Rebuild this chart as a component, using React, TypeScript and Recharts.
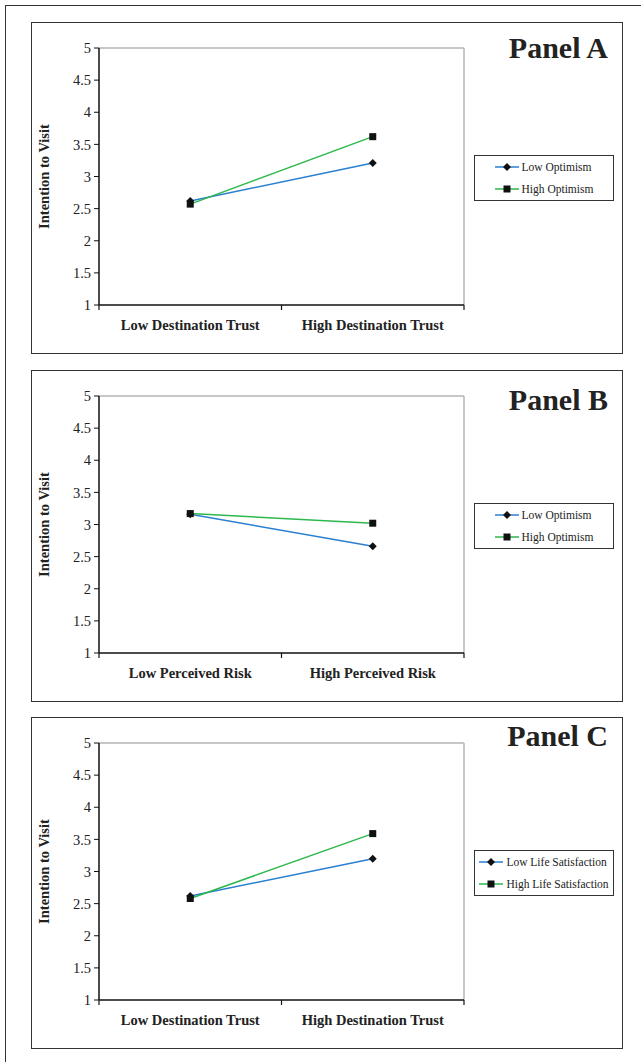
import React from 'react';
import { LineChart, Line, XAxis, YAxis, ReferenceLine, Legend } from 'recharts';

const FONT = '"Liberation Serif", "Times New Roman", serif';
const BLUE = '#2a7fd0';
const GREEN = '#2db84d';

const Y_TICKS = [1, 1.5, 2, 2.5, 3, 3.5, 4, 4.5, 5];
const X_POS = [0.5, 1.5];

const TRUST_CATEGORIES = ['Low Destination Trust', 'High Destination Trust'];
const RISK_CATEGORIES = ['Low Perceived Risk', 'High Perceived Risk'];

const A_LOW_OPTIMISM = [2.62, 3.21];
const A_HIGH_OPTIMISM = [2.57, 3.62];

const B_LOW_OPTIMISM = [3.16, 2.66];
const B_HIGH_OPTIMISM = [3.17, 3.02];

const C_LOW_LIFE_SAT = [2.62, 3.2];
const C_HIGH_LIFE_SAT = [2.58, 3.59];

const buildRows = (low: number[], high: number[]) =>
  X_POS.map((x, i) => ({ x, low: low[i], high: high[i] }));

const Diamond = (props: any) => {
  const { cx, cy } = props;
  if (cx == null || cy == null) return null;
  const r = 4;
  return <polygon points={`${cx},${cy - r} ${cx + r},${cy} ${cx},${cy + r} ${cx - r},${cy}`} fill="#111" />;
};

const Square = (props: any) => {
  const { cx, cy } = props;
  if (cx == null || cy == null) return null;
  return <rect x={cx - 3.5} y={cy - 3.5} width={7} height={7} fill="#111" />;
};

const makeTick = (categories: string[]) => (props: any) => {
  const { x, y, payload } = props;
  const v = payload.value;
  if (Number.isInteger(v)) {
    return <line x1={x} x2={x} y1={y} y2={y + 5} stroke="#111" strokeWidth={1.2} />;
  }
  return (
    <text x={x} y={y + 25} textAnchor="middle" fontFamily={FONT} fontWeight="bold" fontSize={14.5} fill="#222">
      {categories[Math.floor(v)]}
    </text>
  );
};

const LegendBox = (props: any) => {
  const items = [...(props.payload || [])].sort((a: any, b: any) =>
    a.dataKey === 'low' ? -1 : b.dataKey === 'low' ? 1 : 0
  );
  return (
    <div style={{ display: 'flex', justifyContent: 'center', alignItems: 'center', height: '100%' }}>
      <div>
        {items.map((entry: any) => (
          <div key={entry.value} style={{ display: 'flex', alignItems: 'center', height: 22 }}>
            <svg width={24} height={10} style={{ marginRight: 3 }}>
              <line x1={0} x2={24} y1={5} y2={5} stroke={entry.color} strokeWidth={1.5} />
              {entry.dataKey === 'low' ? (
                <polygon points="12,1 16,5 12,9 8,5" fill="#111" />
              ) : (
                <rect x={8.5} y={1.5} width={7} height={7} fill="#111" />
              )}
            </svg>
            <span style={{ fontFamily: FONT, fontSize: 11.5, color: '#222', whiteSpace: 'nowrap' }}>{entry.value}</span>
          </div>
        ))}
      </div>
    </div>
  );
};

type PanelProps = {
  top: number;
  title: string;
  titleTop: number;
  categories: string[];
  low: number[];
  high: number[];
  lowName: string;
  highName: string;
};

const Panel = ({ top, title, titleTop, categories, low, high, lowName, highName }: PanelProps) => {
  const rows = buildRows(low, high);
  return (
    <div
      style={{
        position: 'absolute',
        left: 31,
        top,
        width: 592,
        height: 332,
        border: '1.5px solid #333',
        boxSizing: 'border-box',
        background: '#fff',
      }}
    >
      <div
        style={{
          position: 'absolute',
          right: 14,
          top: titleTop,
          fontFamily: FONT,
          fontWeight: 'bold',
          fontSize: 30,
          lineHeight: 1,
          color: '#222',
        }}
      >
        {title}
      </div>
      <div style={{ position: 'absolute', left: 0, top: 0 }}>
        <LineChart width={589} height={329} data={rows} margin={{ top: 25, right: 17, bottom: 7, left: 7 }}>
          <XAxis
            dataKey="x"
            type="number"
            domain={[0, 2]}
            ticks={[0, 0.5, 1, 1.5, 2]}
            height={40}
            tickSize={0}
            tickMargin={0}
            tickLine={false}
            axisLine={{ stroke: '#111', strokeWidth: 1.5 }}
            tick={makeTick(categories)}
            interval={0}
          />
          <YAxis
            domain={[1, 5]}
            ticks={Y_TICKS}
            width={60}
            tickSize={5}
            tickMargin={3}
            axisLine={{ stroke: '#111', strokeWidth: 1.5 }}
            tickLine={{ stroke: '#111' }}
            tick={{ fill: '#222', fontFamily: FONT, fontSize: 14.5 }}
            label={{
              value: 'Intention to Visit',
              angle: -90,
              position: 'insideLeft',
              offset: 5,
              style: { textAnchor: 'middle', fontFamily: FONT, fontWeight: 'bold', fontSize: 14.5, fill: '#222' },
            }}
          />
          <ReferenceLine y={5} stroke="#b5b5b5" strokeWidth={1.5} />
          <ReferenceLine x={2} stroke="#b5b5b5" strokeWidth={1.5} />
          <Legend
            layout="vertical"
            align="right"
            verticalAlign="middle"
            content={<LegendBox />}
            wrapperStyle={{
              left: 442,
              top: 132,
              width: 140,
              height: 46,
              border: '1.2px solid #333',
              boxSizing: 'border-box',
              background: '#fff',
            }}
          />
          <Line
            dataKey="low"
            name={lowName}
            stroke={BLUE}
            strokeWidth={1.5}
            dot={<Diamond />}
            activeDot={false}
            isAnimationActive={false}
          />
          <Line
            dataKey="high"
            name={highName}
            stroke={GREEN}
            strokeWidth={1.5}
            dot={<Square />}
            activeDot={false}
            isAnimationActive={false}
          />
        </LineChart>
      </div>
    </div>
  );
};

export default function App() {
  return (
    <div style={{ position: 'absolute', left: 0, top: 0, width: 641, height: 1062, background: '#fff', overflow: 'hidden' }}>
      <div
        style={{
          position: 'absolute',
          left: 5,
          top: 5,
          width: 700,
          height: 1100,
          borderLeft: '1.5px solid #333',
          borderTop: '1.5px solid #333',
        }}
      />
      <Panel
        top={22}
        title="Panel A"
        titleTop={10}
        categories={TRUST_CATEGORIES}
        low={A_LOW_OPTIMISM}
        high={A_HIGH_OPTIMISM}
        lowName="Low Optimism"
        highName="High Optimism"
      />
      <Panel
        top={370}
        title="Panel B"
        titleTop={14}
        categories={RISK_CATEGORIES}
        low={B_LOW_OPTIMISM}
        high={B_HIGH_OPTIMISM}
        lowName="Low Optimism"
        highName="High Optimism"
      />
      <Panel
        top={717}
        title="Panel C"
        titleTop={3}
        categories={TRUST_CATEGORIES}
        low={C_LOW_LIFE_SAT}
        high={C_HIGH_LIFE_SAT}
        lowName="Low Life Satisfaction"
        highName="High Life Satisfaction"
      />
    </div>
  );
}
